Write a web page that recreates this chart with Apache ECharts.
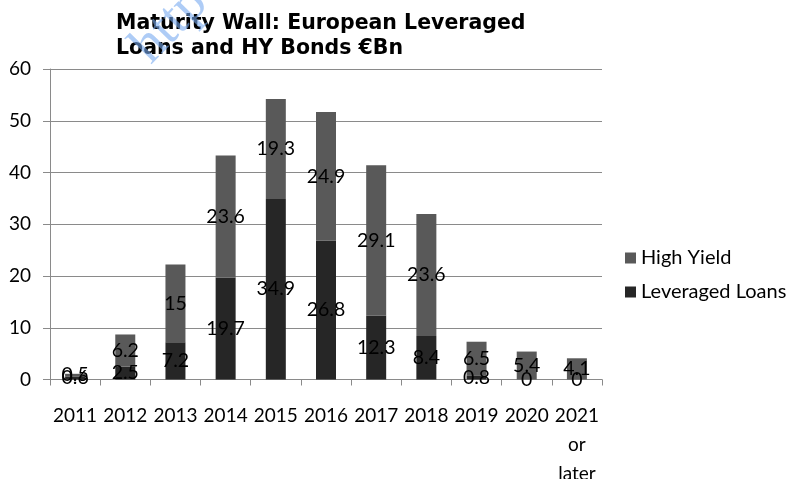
<!DOCTYPE html>
<html>
<head>
<meta charset="utf-8">
<script src="https://cdn.jsdelivr.net/npm/echarts@6/dist/echarts.min.js"></script>
<style>
  html, body { margin: 0; padding: 0; background: #fff; }
  #chart { width: 796px; height: 479px; }
</style>
</head>
<body>
<div id="chart"></div>
<script>
// Maturity wall, €bn, by year of maturity
const categories = ['2011', '2012', '2013', '2014', '2015', '2016', '2017', '2018', '2019', '2020', '2021\nor\nlater'];
const leveragedLoans = [0.6, 2.5, 7.2, 19.7, 34.9, 26.8, 12.3, 8.4, 0.8, 0, 0];
const highYield = [0.5, 6.2, 15, 23.6, 19.3, 24.9, 29.1, 23.6, 6.5, 5.4, 4.1];
const yTicks = { min: 0, max: 60, interval: 10 };

const uiFont = 'Lato, "Open Sans", sans-serif';

const chart = echarts.init(document.getElementById('chart'));

const segmentLabel = {
  show: true,
  position: 'inside',
  color: '#000',
  fontFamily: uiFont,
  fontSize: 19.5
};

chart.setOption({
  animation: false,
  backgroundColor: '#fff',
  title: {
    text: 'Maturity Wall: European Leveraged\nLoans and HY Bonds €Bn',
    left: 111,
    top: 6,
    textStyle: {
      fontFamily: '"DejaVu Sans", sans-serif',
      fontWeight: 'bold',
      fontSize: 20.5,
      lineHeight: 25,
      color: '#000'
    }
  },
  graphic: [{
    type: 'text',
    x: 160,
    y: 74,
    rotation: 0.8,
    style: {
      text: 'http',
      fontFamily: '"Liberation Serif", serif',
      fontSize: 54,
      align: 'left',
      verticalAlign: 'bottom',
      fill: 'rgba(120,170,240,0.6)'
    },
    z: 100
  }],
  legend: {
    data: ['High Yield', 'Leveraged Loans'],
    orient: 'vertical',
    left: 620,
    top: 243,
    itemWidth: 11,
    itemHeight: 11,
    itemGap: 14,
    icon: 'rect',
    textStyle: { fontFamily: uiFont, fontSize: 20, color: '#000' }
  },
  grid: { left: 50, right: 194, top: 69, bottom: 99.5, outerBoundsMode: 'none', containLabel: false },
  xAxis: {
    type: 'category',
    data: categories,
    axisLine: { lineStyle: { color: '#8a8a8a', width: 1 } },
    axisTick: { show: true, alignWithLabel: false, length: 6, lineStyle: { color: '#8a8a8a' } },
    axisLabel: {
      interval: 0,
      margin: 22,
      color: '#000',
      fontFamily: uiFont,
      fontSize: 19,
      lineHeight: 29
    }
  },
  yAxis: {
    type: 'value',
    min: yTicks.min,
    max: yTicks.max,
    interval: yTicks.interval,
    axisLine: { show: true, lineStyle: { color: '#8a8a8a' } },
    axisTick: { show: true, length: 7, lineStyle: { color: '#8a8a8a' } },
    splitLine: { lineStyle: { color: '#8a8a8a', width: 1 } },
    axisLabel: {
      margin: 19,
      color: '#000',
      fontFamily: uiFont,
      fontSize: 19
    }
  },
  series: [
    {
      name: 'Leveraged Loans',
      type: 'bar',
      stack: 'total',
      barWidth: 20,
      data: leveragedLoans,
      itemStyle: { color: '#262626' },
      label: segmentLabel
    },
    {
      name: 'High Yield',
      type: 'bar',
      stack: 'total',
      barWidth: 20,
      data: highYield,
      itemStyle: { color: '#595959' },
      label: segmentLabel
    }
  ]
});
</script>
</body>
</html>
